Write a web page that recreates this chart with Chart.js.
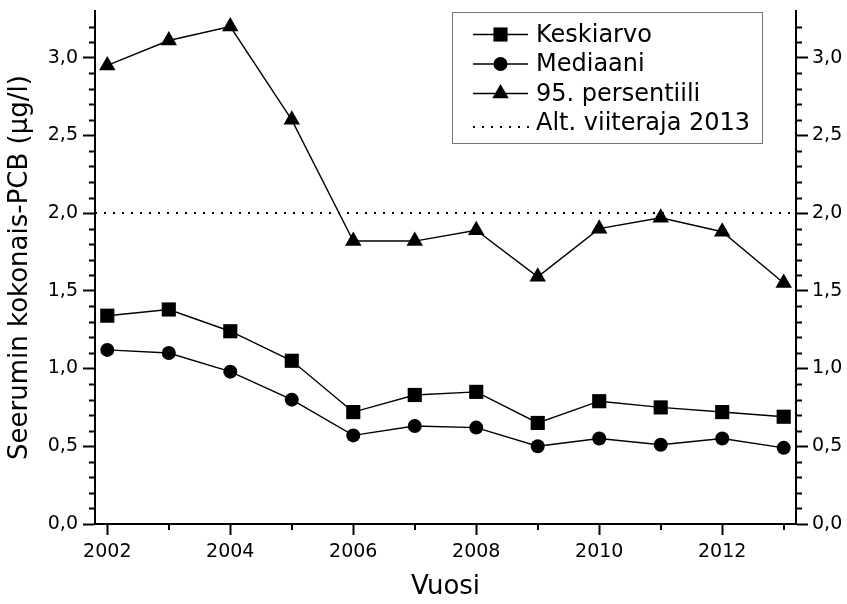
<!DOCTYPE html>
<html lang="fi">
<head>
<meta charset="utf-8">
<title>Seerumin kokonais-PCB</title>
<script src="https://cdn.jsdelivr.net/npm/chart.js@4/dist/chart.umd.min.js"></script>
<style>
  html, body { margin: 0; padding: 0; background: #fff; }
  #wrap { width: 847px; height: 604px; }
</style>
</head>
<body>
<div id="wrap"><canvas id="chart" width="847" height="604"></canvas></div>
<script>
// Data
const years = [2002, 2003, 2004, 2005, 2006, 2007, 2008, 2009, 2010, 2011, 2012, 2013];
const keskiarvo = [1.34, 1.38, 1.24, 1.05, 0.72, 0.83, 0.85, 0.65, 0.79, 0.75, 0.72, 0.69];
const mediaani = [1.12, 1.10, 0.98, 0.80, 0.57, 0.63, 0.62, 0.50, 0.55, 0.51, 0.55, 0.49];
const persentiili95 = [2.95, 3.11, 3.20, 2.60, 1.82, 1.82, 1.89, 1.59, 1.90, 1.97, 1.88, 1.55];
const viiteraja = [2.0, 2.0];
const labelYears = [2002, 2004, 2006, 2008, 2010, 2012];
const yTickValues = [0, 0.5, 1.0, 1.5, 2.0, 2.5, 3.0];

// Akselien rajat
const X_MIN = 2001.8;
const X_MAX = 2013.2;
const Y_MAX = 3.3;

const FONT = 'DejaVu Sans, Verdana, sans-serif';

const toPoints = (values) => years.map((yr, i) => ({ x: yr, y: values[i] }));
const fmt = (v) => v.toFixed(1).replace('.', ',');

// Pienet väliviivat akseleille
const minorTicks = {
  id: 'minorTicks',
  afterDraw(chart) {
    const { ctx, scales } = chart;
    const { x, y, y2 } = scales;
    ctx.save();
    ctx.strokeStyle = '#000';
    ctx.lineWidth = 2;
    ctx.beginPath();
    for (let k = 1; k * 0.1 < Y_MAX; k++) {
      if (k % 5 === 0) continue;
      const py = Math.round(y.getPixelForValue(k * 0.1)) + 0.5;
      ctx.moveTo(y.right, py);
      ctx.lineTo(y.right - 6, py);
      ctx.moveTo(y2.left, py);
      ctx.lineTo(y2.left + 6, py);
    }
    years.filter(yr => !labelYears.includes(yr)).forEach(yr => {
      const px = Math.round(x.getPixelForValue(yr));
      ctx.moveTo(px, x.top);
      ctx.lineTo(px, x.top + 6);
    });
    ctx.stroke();
    ctx.restore();
  }
};

// Oma selite: viiva + merkki
const drawMarker = (ctx, style, cx, cy, r) => {
  ctx.beginPath();
  if (style === 'rect') {
    const s = r * Math.SQRT1_2;
    ctx.rect(cx - s, cy - s, 2 * s, 2 * s);
  } else if (style === 'circle') {
    ctx.arc(cx, cy, r, 0, Math.PI * 2);
  } else if (style === 'triangle') {
    ctx.moveTo(cx, cy - r);
    ctx.lineTo(cx + r * Math.sin(Math.PI * 2 / 3), cy + r / 2);
    ctx.lineTo(cx - r * Math.sin(Math.PI * 2 / 3), cy + r / 2);
    ctx.closePath();
  }
  ctx.fill();
};

const boxLegend = {
  id: 'boxLegend',
  afterDraw(chart) {
    const ctx = chart.ctx;
    const box = { left: 452.5, top: 12.5, width: 310, height: 131 };
    ctx.save();
    ctx.fillStyle = '#fff';
    ctx.fillRect(box.left, box.top, box.width, box.height);
    ctx.strokeStyle = '#777';
    ctx.lineWidth = 1;
    ctx.strokeRect(box.left, box.top, box.width, box.height);
    ctx.font = '24px ' + FONT;
    ctx.textBaseline = 'middle';
    chart.data.datasets.forEach((ds, i) => {
      const cy = 34.5 + i * 29.5;
      ctx.strokeStyle = '#000';
      ctx.fillStyle = '#000';
      if (ds.borderDash && ds.borderDash.length) {
        ctx.lineWidth = 2;
        ctx.setLineDash(ds.borderDash);
        ctx.beginPath();
        ctx.moveTo(473, cy + 4);
        ctx.lineTo(530, cy + 4);
        ctx.stroke();
        ctx.setLineDash([]);
      } else {
        ctx.lineWidth = 1.4;
        ctx.beginPath();
        ctx.moveTo(473, cy);
        ctx.lineTo(528, cy);
        ctx.stroke();
        drawMarker(ctx, ds.pointStyle, 500.5, cy, ds.pointRadius);
      }
      ctx.fillText(ds.label, 536, cy + 1);
    });
    ctx.restore();
  }
};

const lineSet = (label, values, style, radius) => ({
  label,
  data: toPoints(values),
  borderColor: '#000',
  backgroundColor: '#000',
  borderWidth: 1.4,
  pointStyle: style,
  pointRadius: radius,
  pointBorderWidth: 0,
  pointHoverRadius: radius,
  clip: false,
  yAxisID: 'y'
});

const yAxis = (position, width) => ({
  type: 'linear',
  position,
  min: 0,
  max: Y_MAX,
  afterBuildTicks: (s) => { s.ticks = yTickValues.map(v => ({ value: v })); },
  afterFit: (s) => { s.width = width; s.paddingTop = 0; s.paddingBottom = 0; },
  border: { display: true, color: '#000', width: 2 },
  grid: { drawOnChartArea: false, drawTicks: true, tickLength: 12, tickColor: '#000', tickWidth: 2 },
  ticks: {
    color: '#000',
    padding: position === 'left' ? 5 : 4,
    font: { family: FONT, size: 19 },
    callback: (v) => fmt(v)
  }
});

const leftAxis = yAxis('left', 95);
leftAxis.title = {
  display: true,
  text: 'Seerumin kokonais-PCB (µg/l)',
  color: '#000',
  font: { family: FONT, size: 26 },
  padding: { top: 5, bottom: 0 }
};

new Chart(document.getElementById('chart'), {
  type: 'line',
  data: {
    datasets: [
      lineSet('Keskiarvo', keskiarvo, 'rect', 10),
      lineSet('Mediaani', mediaani, 'circle', 7),
      lineSet('95. persentiili', persentiili95, 'triangle', 9.5),
      {
        label: 'Alt. viiteraja 2013',
        data: [{ x: X_MIN, y: viiteraja[0] }, { x: X_MAX, y: viiteraja[1] }],
        borderColor: '#000',
        borderWidth: 2,
        borderDash: [2, 7],
        pointRadius: 0,
        yAxisID: 'y'
      }
    ]
  },
  options: {
    responsive: false,
    animation: false,
    devicePixelRatio: 1,
    layout: { padding: { top: 11, left: 0, right: 0, bottom: 0 } },
    plugins: {
      legend: { display: false },
      tooltip: { enabled: false }
    },
    scales: {
      x: {
        type: 'linear',
        min: X_MIN,
        max: X_MAX,
        afterBuildTicks: (s) => { s.ticks = labelYears.map(v => ({ value: v })); },
        afterFit: (s) => { s.height = 80; },
        border: { display: true, color: '#000', width: 2 },
        grid: { drawOnChartArea: false, drawTicks: true, tickLength: 11, tickColor: '#000', tickWidth: 2 },
        ticks: {
          color: '#000',
          padding: 6,
          maxRotation: 0,
          font: { family: FONT, size: 19 },
          callback: (v) => String(v)
        },
        title: {
          display: true,
          text: 'Vuosi',
          color: '#000',
          font: { family: FONT, size: 26 },
          padding: { top: 0, bottom: 1 }
        }
      },
      y: leftAxis,
      y2: yAxis('right', 51)
    }
  },
  plugins: [minorTicks, boxLegend]
});
</script>
</body>
</html>
